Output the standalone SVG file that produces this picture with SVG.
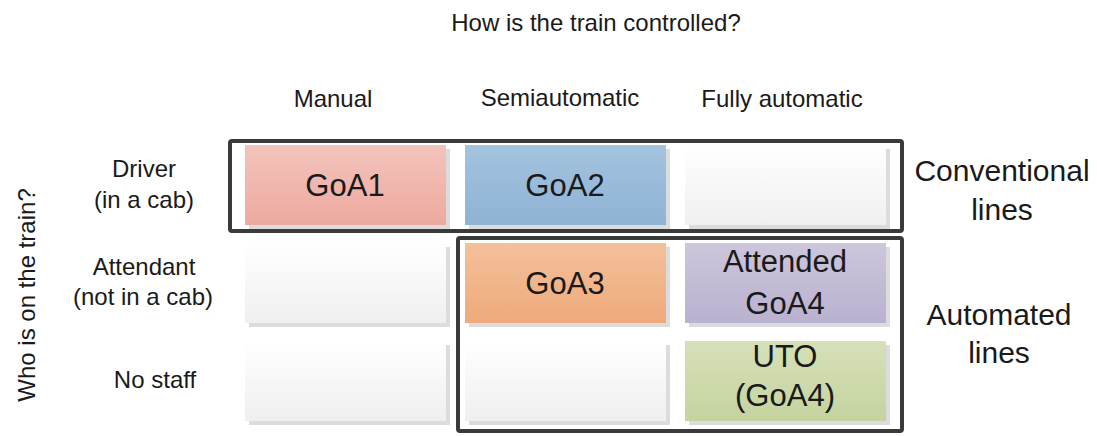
<svg xmlns="http://www.w3.org/2000/svg" width="1097" height="436" viewBox="0 0 1097 436">
<defs>
<linearGradient id="gPink" x1="0" y1="0" x2="0" y2="1"><stop offset="0" stop-color="#f3c4bc"/><stop offset="1" stop-color="#eda99f"/></linearGradient>
<linearGradient id="gBlue" x1="0" y1="0" x2="0" y2="1"><stop offset="0" stop-color="#a3c3de"/><stop offset="1" stop-color="#8fb3d5"/></linearGradient>
<linearGradient id="gOrange" x1="0" y1="0" x2="0" y2="1"><stop offset="0" stop-color="#f4c09a"/><stop offset="1" stop-color="#eeaa7b"/></linearGradient>
<linearGradient id="gPurple" x1="0" y1="0" x2="0" y2="1"><stop offset="0" stop-color="#cdc6dc"/><stop offset="1" stop-color="#b9b1cf"/></linearGradient>
<linearGradient id="gGreen" x1="0" y1="0" x2="0" y2="1"><stop offset="0" stop-color="#d6e0b9"/><stop offset="1" stop-color="#c5d39f"/></linearGradient>
<linearGradient id="gEmpty" x1="0" y1="0" x2="0" y2="1"><stop offset="0" stop-color="#ffffff"/><stop offset="1" stop-color="#efefef"/></linearGradient>
</defs>
<style>
text{font-family:"Liberation Sans",Arial,sans-serif;fill:#1a1a1a;text-anchor:middle}
.hd{font-size:24px}
.cell{font-size:31px}
.side{font-size:30px}
.shadow{fill:#dcdcdc}
.frame{fill:none;stroke:#3a3a3a;stroke-width:4;}
</style>
<rect width="1097" height="436" fill="#ffffff"/>
<g id="title"><text class="hd" x="596" y="31">How is the train controlled?</text></g>
<g id="colheaders">
<text class="hd" x="333" y="107">Manual</text>
<text class="hd" x="560" y="106">Semiautomatic</text>
<text class="hd" x="782" y="107">Fully automatic</text>
</g>
<g id="rowheaders">
<text class="hd" x="144" y="177">Driver</text>
<text class="hd" x="144" y="208">(in a cab)</text>
<text class="hd" x="144" y="275">Attendant</text>
<text class="hd" x="143" y="305">(not in a cab)</text>
<text class="hd" x="155" y="388">No staff</text>
<text class="hd" transform="translate(35 295) rotate(-90)">Who is on the train?</text>
</g>
<g id="cell-r1c1"><rect class="shadow" x="249" y="149" width="201" height="80"/><rect x="245" y="145" width="201" height="80" fill="url(#gPink)"/><text class="cell" x="345" y="196">GoA1</text></g>
<g id="cell-r1c2"><rect class="shadow" x="469" y="149" width="201" height="80"/><rect x="465" y="145" width="201" height="80" fill="url(#gBlue)"/><text class="cell" x="565" y="196">GoA2</text></g>
<g id="cell-r1c3"><rect class="shadow" x="689" y="149" width="201" height="80"/><rect x="685" y="145" width="201" height="80" fill="url(#gEmpty)"/></g>
<g id="cell-r2c1"><rect class="shadow" x="249" y="247" width="201" height="80"/><rect x="245" y="243" width="201" height="80" fill="url(#gEmpty)"/></g>
<g id="cell-r2c2"><rect class="shadow" x="469" y="247" width="201" height="80"/><rect x="465" y="243" width="201" height="80" fill="url(#gOrange)"/><text class="cell" x="565" y="294">GoA3</text></g>
<g id="cell-r2c3"><rect class="shadow" x="689" y="247" width="201" height="80"/><rect x="685" y="243" width="201" height="80" fill="url(#gPurple)"/><text class="cell" x="785" y="272">Attended</text><text class="cell" x="785" y="314">GoA4</text></g>
<g id="cell-r3c1"><rect class="shadow" x="249" y="345" width="201" height="80"/><rect x="245" y="341" width="201" height="80" fill="url(#gEmpty)"/></g>
<g id="cell-r3c2"><rect class="shadow" x="469" y="345" width="201" height="80"/><rect x="465" y="341" width="201" height="80" fill="url(#gEmpty)"/></g>
<g id="cell-r3c3"><rect class="shadow" x="689" y="345" width="201" height="80"/><rect x="685" y="341" width="201" height="80" fill="url(#gGreen)"/><text class="cell" x="785" y="367">UTO</text><text class="cell" x="785" y="406">(GoA4)</text></g>
<g id="group-conventional"><rect class="frame" x="230" y="141" width="672" height="90" rx="2"/><text class="side" x="1002" y="181">Conventional</text><text class="side" x="1002" y="220">lines</text></g>
<g id="group-automated"><rect class="frame" x="458" y="238" width="444" height="193" rx="2"/><text class="side" x="999" y="325">Automated</text><text class="side" x="999" y="363">lines</text></g>
</svg>
